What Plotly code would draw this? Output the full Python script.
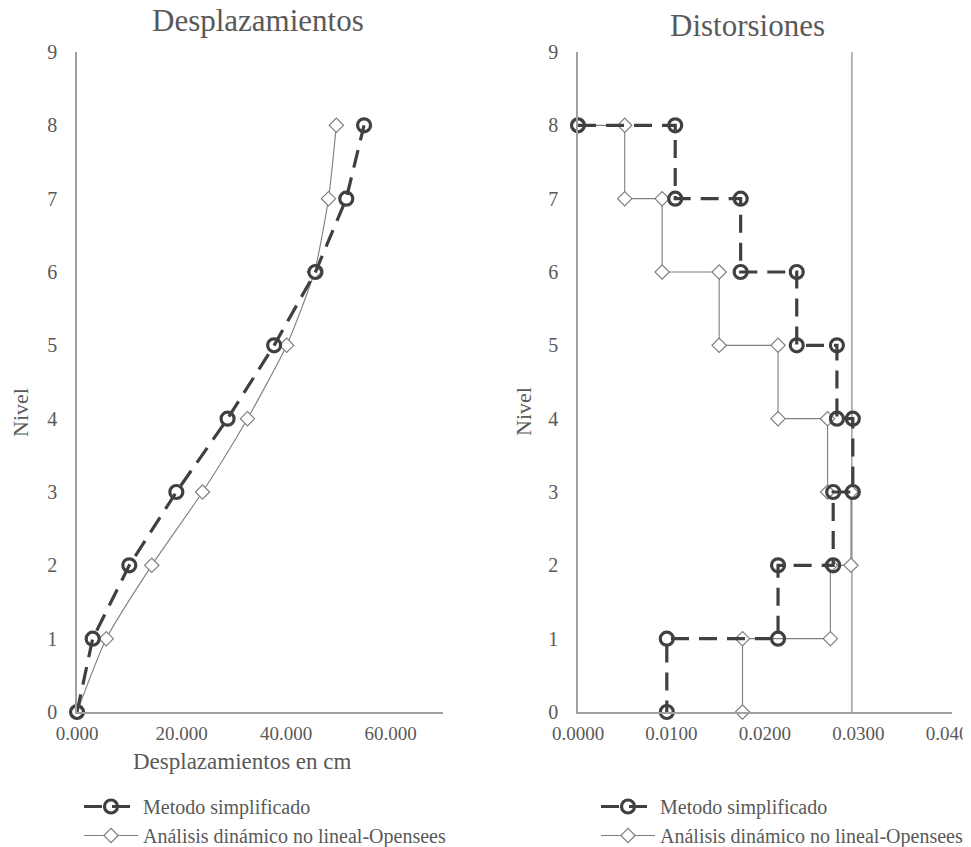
import plotly.graph_objects as go

# ---------------- data ----------------
niveles = [0, 1, 2, 3, 4, 5, 6, 7, 8]
desp_simplificado = [0, 3.0, 10.0, 19.0, 28.8, 37.7, 45.6, 51.5, 54.9]
desp_opensees = [0, 5.6, 14.3, 24.0, 32.6, 40.1, 45.4, 48.1, 49.6]

dist_simplificado_x = [0.0, 0.0104, 0.0104, 0.0174, 0.0174, 0.0234, 0.0234, 0.0277, 0.0277,
                       0.0294, 0.0294, 0.0273, 0.0273, 0.0214, 0.0214, 0.0095, 0.0095]
dist_simplificado_y = [8, 8, 7, 7, 6, 6, 5, 5, 4, 4, 3, 3, 2, 2, 1, 1, 0]
dist_opensees_x = [0.0, 0.0050, 0.0050, 0.0090, 0.0090, 0.0151, 0.0151, 0.0214, 0.0214,
                   0.0267, 0.0267, 0.0292, 0.0292, 0.0270, 0.0270, 0.0176, 0.0176]
dist_opensees_y = [8, 8, 7, 7, 6, 6, 5, 5, 4, 4, 3, 3, 2, 2, 1, 1, 0]

limite_x = [0.0293, 0.0293]
limite_y = [0, 9]

nombre_simpl = "Metodo simplificado"
nombre_ops = "Análisis dinámico no lineal-Opensees"

x1_ticks = [0, 20, 40, 60]
x2_ticks = [0.0, 0.01, 0.02, 0.03, 0.04]
y_ticks = [0, 1, 2, 3, 4, 5, 6, 7, 8, 9]

# ---------------- styles ----------------
FONT = "Liberation Serif"
TXT = "#595959"
DARK = "#404040"
GRAY = "#7f7f7f"
AXIS = "#a0a0a0"
W, H = 971, 847
OFF = 8  # page body margin


def px_x(p):
    return (p - OFF) / W


def px_y(p):
    return (H - (p - OFF)) / H


circ = dict(symbol="circle", size=13, color="rgba(0,0,0,0)", line=dict(color=DARK, width=3.2))
diam = dict(symbol="diamond", size=11, color="white", line=dict(color=GRAY, width=1.2))

fig = go.Figure()

# left chart
fig.add_trace(go.Scatter(x=desp_opensees, y=niveles, mode="lines+markers", name=nombre_ops,
                         line=dict(color=GRAY, width=1.1, shape="spline", smoothing=0.6),
                         marker=diam, xaxis="x", yaxis="y", legend="legend",
                         legendrank=2, cliponaxis=False))
fig.add_trace(go.Scatter(x=desp_simplificado, y=niveles, mode="lines+markers", name=nombre_simpl,
                         line=dict(color=DARK, width=3.2, dash="18px,10px"),
                         marker=circ, xaxis="x", yaxis="y", legend="legend",
                         legendrank=1, cliponaxis=False))

# right chart
fig.add_trace(go.Scatter(x=limite_x, y=limite_y, mode="lines", showlegend=False,
                         line=dict(color=AXIS, width=1.5), xaxis="x2", yaxis="y2",
                         hoverinfo="skip"))
fig.add_trace(go.Scatter(x=dist_opensees_x, y=dist_opensees_y, mode="lines+markers", name=nombre_ops,
                         line=dict(color=GRAY, width=1.1), marker=diam,
                         xaxis="x2", yaxis="y2", legend="legend2",
                         legendrank=2, cliponaxis=False))
fig.add_trace(go.Scatter(x=dist_simplificado_x, y=dist_simplificado_y, mode="lines+markers",
                         name=nombre_simpl,
                         line=dict(color=DARK, width=3.2, dash="18px,10px"), marker=circ,
                         xaxis="x2", yaxis="y2", legend="legend2",
                         legendrank=1, cliponaxis=False))

ydom = [px_y(712), px_y(52)]
common_x = dict(showline=True, linecolor=AXIS, linewidth=1.5, showgrid=False, zeroline=False,
                ticks="outside", ticklen=3, tickcolor="rgba(0,0,0,0)",
                automargin=False, ticklabeloverflow="allow",
                tickfont=dict(family=FONT, size=19, color=TXT))
common_y = dict(showline=True, linecolor=AXIS, linewidth=1.5, showgrid=False, zeroline=False,
                ticks="outside", ticklen=14, tickcolor="rgba(0,0,0,0)", range=[0, 9],
                tickvals=y_ticks, domain=ydom, automargin=False,
                tickfont=dict(family=FONT, size=20, color=TXT))

leg_common = dict(xanchor="left", yanchor="top", xref="container", yref="container",
                  font=dict(family=FONT, size=20, color=TXT), bgcolor="rgba(0,0,0,0)",
                  tracegroupgap=0, itemwidth=54)

fig.update_layout(
    width=W, height=H,
    margin=dict(l=0, r=0, t=0, b=0, autoexpand=False),
    paper_bgcolor="white", plot_bgcolor="white",
    font=dict(family=FONT, color=TXT, size=20),
    xaxis=dict(domain=[px_x(77), px_x(443)], range=[0, 70], tickvals=x1_ticks, tickformat=".3f",
               anchor="y", **common_x),
    yaxis=dict(anchor="x", **common_y),
    xaxis2=dict(domain=[px_x(578), px_x(952)], range=[0, 0.04001], tickvals=x2_ticks,
                tickformat=".4f", anchor="y2", **common_x),
    yaxis2=dict(anchor="x2", **common_y),
    legend=dict(x=px_x(79), y=px_y(787), **leg_common),
    legend2=dict(x=px_x(596), y=px_y(787), **leg_common),
    annotations=[
        dict(text="Desplazamientos", x=px_x(258), y=px_y(21), xref="paper", yref="paper",
             showarrow=False, xanchor="center", yanchor="middle",
             font=dict(family=FONT, size=31, color=TXT)),
        dict(text="Distorsiones", x=px_x(747), y=px_y(26), xref="paper", yref="paper",
             showarrow=False, xanchor="center", yanchor="middle",
             font=dict(family=FONT, size=31, color=TXT)),
        dict(text="Desplazamientos en cm", x=px_x(242), y=px_y(761), xref="paper", yref="paper",
             showarrow=False, xanchor="center", yanchor="middle",
             font=dict(family=FONT, size=23, color=TXT)),
        dict(text="Nivel", x=px_x(20), y=px_y(413), xref="paper", yref="paper",
             showarrow=False, textangle=-90, xanchor="center", yanchor="middle",
             font=dict(family=FONT, size=22, color=TXT)),
        dict(text="Nivel", x=px_x(523), y=px_y(412), xref="paper", yref="paper",
             showarrow=False, textangle=-90, xanchor="center", yanchor="middle",
             font=dict(family=FONT, size=22, color=TXT)),
    ],
)

fig.write_html("out.html")
